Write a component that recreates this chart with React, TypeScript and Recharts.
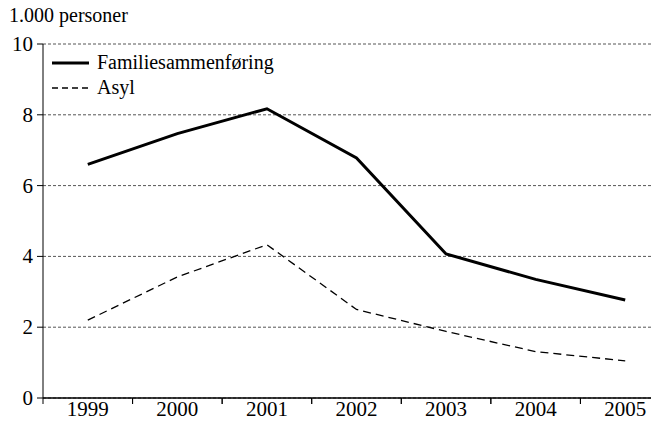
import { LineChart, Line, XAxis, YAxis, CartesianGrid } from 'recharts';

const years = ['1999', '2000', '2001', '2002', '2003', '2004', '2005'];
const familie = [6.6, 7.47, 8.17, 6.78, 4.07, 3.35, 2.77];
const asyl = [2.2, 3.42, 4.33, 2.5, 1.88, 1.31, 1.05];
const yTicks = [0, 2, 4, 6, 8, 10];

const data = years.map((year, i) => ({ year, familie: familie[i], asyl: asyl[i] }));

const font = "'Liberation Serif', serif";
const CHART_W = 670;
const Y_W = 43;
const BAND = (CHART_W - Y_W) / years.length;

function XTick(props: any) {
  const { x, y, payload } = props;
  const left = x - BAND / 2;
  return (
    <g>
      <line x1={left} y1={y - 8} x2={left} y2={y - 2} stroke="#000" />
      <line x1={left + BAND} y1={y - 8} x2={left + BAND} y2={y - 2} stroke="#000" />
      <text x={x} y={y + 10} textAnchor="middle" fill="#000" fontFamily="Liberation Serif" fontSize={21}>
        {payload.value}
      </text>
    </g>
  );
}

function YTick(props: any) {
  const { x, y, payload } = props;
  return (
    <text x={x} y={y + 7} textAnchor="end" fill="#000" fontFamily="Liberation Serif" fontSize={21}>
      {payload.value}
    </text>
  );
}

function LegendBox() {
  return (
    <div style={{ position: 'absolute', left: 52, top: 50, fontFamily: font, fontSize: 20, color: '#000', lineHeight: '25px', zIndex: 2 }}>
      <div style={{ display: 'flex', alignItems: 'center' }}>
        <svg width={45} height={10}>
          <line x1={0} y1={5} x2={37} y2={5} stroke="#000" strokeWidth={3} />
        </svg>
        <span>Familiesammenføring</span>
      </div>
      <div style={{ display: 'flex', alignItems: 'center' }}>
        <svg width={45} height={10}>
          <line x1={0} y1={5} x2={37} y2={5} stroke="#000" strokeWidth={1.3} strokeDasharray="6 4" />
        </svg>
        <span>Asyl</span>
      </div>
    </div>
  );
}

export default function App() {
  return (
    <div style={{ margin: -8, width: 659, height: 425, overflow: 'hidden', position: 'relative', background: '#fff', fontFamily: font }}>
      <div style={{ position: 'absolute', left: 9, top: 4, fontFamily: font, fontSize: 20, zIndex: 2 }}>1.000 personer</div>
      <LegendBox />
      <LineChart width={CHART_W} height={425} data={data} margin={{ top: 44, right: 0, left: 0, bottom: 0 }}>
        <CartesianGrid vertical={false} stroke="#555" strokeDasharray="3 2" />
        <XAxis
          dataKey="year"
          scale="band"
          height={27}
          stroke="#000"
          strokeWidth={1.5}
          tickLine={false}
          tick={<XTick />}
          interval={0}
        />
        <YAxis
          width={Y_W}
          domain={[0, 10]}
          ticks={yTicks}
          stroke="#000"
          tick={<YTick />}
          tickSize={6}
          tickMargin={4}
        />
        <Line dataKey="familie" stroke="#000" strokeWidth={3} dot={false} isAnimationActive={false} />
        <Line dataKey="asyl" stroke="#000" strokeWidth={1.3} strokeDasharray="8 5" dot={false} isAnimationActive={false} />
      </LineChart>
    </div>
  );
}
